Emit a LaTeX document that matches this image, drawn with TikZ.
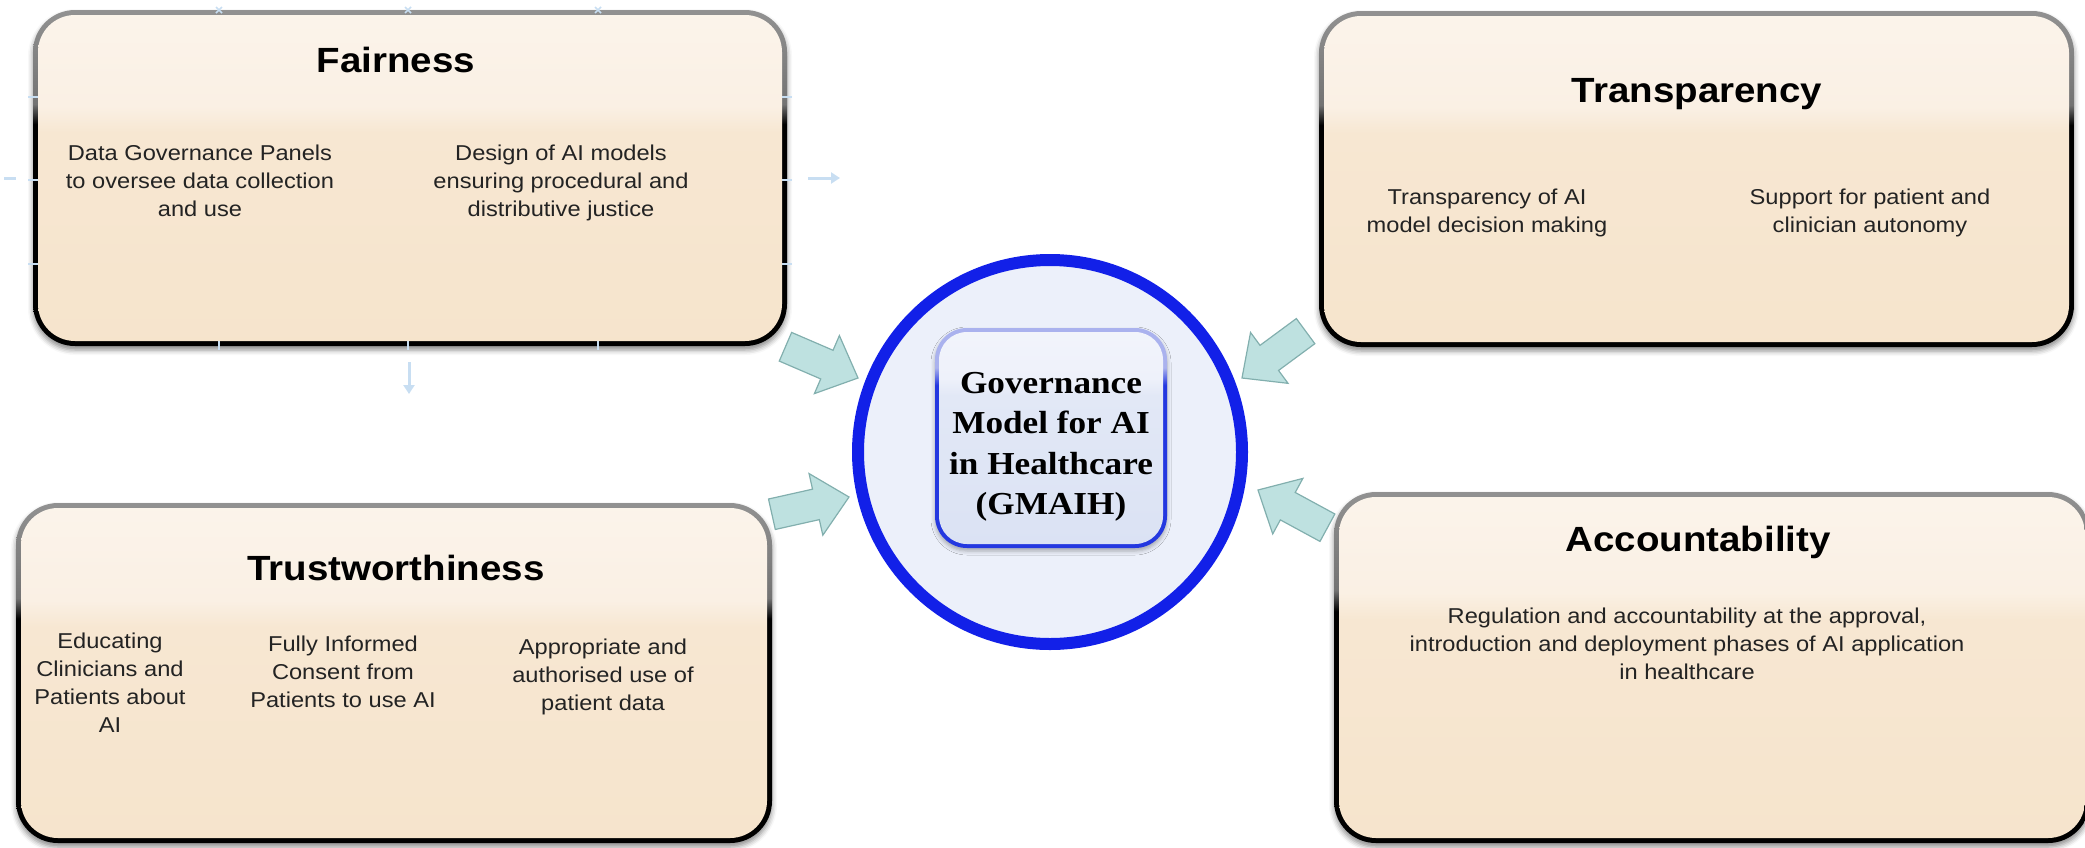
\documentclass[tikz,border=0pt]{standalone}
\usepackage{fontspec}
\setmainfont{Liberation Sans}
\newfontfamily\bodyfont[FakeStretch=1.1]{Liberation Sans}
\newfontfamily\hubfont[FakeStretch=1.1]{Liberation Serif}
\usetikzlibrary{shapes.arrows,shadows.blur,arrows.meta}

\definecolor{bordertop}{RGB}{200,200,200}
\definecolor{bordermid}{RGB}{115,115,115}
\definecolor{peachA}{RGB}{245,226,200}
\definecolor{peachB}{RGB}{247,231,210}
\definecolor{peachC}{RGB}{250,240,228}
\definecolor{peachD}{RGB}{253,250,246}
\definecolor{ringblue}{RGB}{18,32,232}
\definecolor{circfill}{RGB}{236,240,250}
\definecolor{hubedge}{RGB}{36,56,224}
\definecolor{hubedgetop}{RGB}{170,178,238}
\definecolor{hubA}{RGB}{214,222,242}
\definecolor{hubB}{RGB}{226,232,246}
\definecolor{hubC}{RGB}{238,241,250}
\definecolor{hubD}{RGB}{250,251,254}
\definecolor{arrowfill}{RGB}{190,225,224}
\definecolor{arrowline}{RGB}{130,175,174}
\definecolor{faint}{RGB}{200,222,242}
\definecolor{txt}{RGB}{35,35,35}

\pgfdeclareverticalshading{bordershade}{100bp}{color(0bp)=(black); color(58bp)=(black); color(61bp)=(bordermid); color(100bp)=(bordertop)}
\pgfdeclareverticalshading{peachshade}{100bp}{color(0bp)=(peachA); color(57bp)=(peachB); color(61bp)=(peachC); color(100bp)=(peachD)}
\pgfdeclareverticalshading{hubedgeshade}{100bp}{color(0bp)=(hubedge); color(62bp)=(hubedge); color(66bp)=(hubedgetop); color(100bp)=(hubedgetop)}
\pgfdeclareverticalshading{hubfillshade}{100bp}{color(0bp)=(hubA); color(60bp)=(hubB); color(64bp)=(hubC); color(100bp)=(hubD)}

\newcommand\textlines[1]{\begin{tabular}[t]{@{}c@{}}#1\end{tabular}}

\tikzset{
  boxouter/.style={shade, shading=bordershade, rounded corners=42pt, inner sep=0pt, outer sep=0pt,
    blur shadow={shadow xshift=0pt, shadow yshift=-4pt, shadow opacity=45, shadow blur radius=5pt}},
  boxinner/.style={shade, shading=peachshade, rounded corners=37pt, inner sep=0pt, outer sep=0pt},
  titletext/.style={anchor=base, inner sep=0pt, text=black, font={\bodyfont\bfseries\fontsize{35}{40}\selectfont}},
  bodytext/.style={anchor=base, inner sep=0pt, text=txt, font={\bodyfont\fontsize{21.5}{28}\selectfont}},
  hubtextstyle/.style={anchor=base, inner sep=0pt, text=black, font={\hubfont\bfseries\fontsize{32}{40.5}\selectfont}},
  tealarrow/.style={single arrow, draw=arrowline, fill=arrowfill, line width=1.2pt, minimum height=79pt,
    single arrow head extend=16pt, single arrow tip angle=86, inner xsep=0pt, inner ysep=15pt,
    outer sep=0pt, anchor=tip},
  faintarrow/.style={draw=faint, line width=3pt, -{Triangle[width=11pt,length=9pt]}},
  faintmark/.style={draw=faint, line width=1.5pt},
}

\begin{document}
\begin{tikzpicture}[x=1pt, y=-1pt]
\useasboundingbox (0,0) rectangle (2085,847);

% ---------- Fairness ----------
\node[boxouter, minimum width=754pt, minimum height=336pt] (fair) at (410,178) {};
\node[boxinner, minimum width=744pt, minimum height=326pt] (fairin) at (fair) {};
\node[titletext] (fairt) at (396,72) {Fairness};
\node[bodytext] (faira) at (200,160) {\textlines{Data Governance Panels\\to oversee data collection\\and use}};
\node[bodytext] (fairb) at (561,160) {\textlines{Design of AI models\\ensuring procedural and\\distributive justice}};

% faint handles around Fairness
\foreach \xx in {219,408,598} {
  \draw[faintmark] (\xx-3,7) -- (\xx+3,13);
  \draw[faintmark] (\xx+3,7) -- (\xx-3,13);
  \draw[faintmark] (\xx,341) -- (\xx,350);
}
\foreach \yy in {97,180,264} {
  \draw[faintmark] (28,\yy) -- (38,\yy);
  \draw[faintmark] (782,\yy) -- (792,\yy);
}
\coordinate (fr1) at (808,178); \coordinate (fr2) at (840,178);
\draw[faintarrow] (fr1) -- (fr2);
\coordinate (fd1) at (409,362); \coordinate (fd2) at (409,394);
\draw[faintarrow] (fd1) -- (fd2);
\coordinate (fl1) at (4,178); \coordinate (fl2) at (16,178);
\draw[faintmark, line width=3pt] (fl1) -- (fl2);

% ---------- Transparency ----------
\node[boxouter, minimum width=755pt, minimum height=336pt] (trans) at (1696.5,179) {};
\node[boxinner, minimum width=745pt, minimum height=326pt] (transin) at (trans) {};
\node[titletext] (transt) at (1697,102) {Transparency};
\node[bodytext] (transa) at (1487,204) {\textlines{Transparency of AI\\model decision making}};
\node[bodytext] (transb) at (1870,204) {\textlines{Support for patient and\\clinician autonomy}};

% ---------- Trustworthiness ----------
\node[boxouter, minimum width=756pt, minimum height=340pt] (trust) at (394,673) {};
\node[boxinner, minimum width=746pt, minimum height=330pt] (trustin) at (trust) {};
\node[titletext] (trustt) at (396,580) {Trustworthiness};
\node[bodytext] (trusta) at (110,648) {\textlines{Educating\\Clinicians and\\Patients about\\AI}};
\node[bodytext] (trustb) at (343,651) {\textlines{Fully Informed\\Consent from\\Patients to use AI}};
\node[bodytext] (trustc) at (603,654) {\textlines{Appropriate and\\authorised use of\\patient data}};

% ---------- Accountability ----------
\node[boxouter, minimum width=756pt, minimum height=351pt] (acc) at (1712,667.5) {};
\node[boxinner, minimum width=746pt, minimum height=341pt] (accin) at (acc) {};
\node[titletext] (acct) at (1698,551) {Accountability};
\node[bodytext] (acca) at (1687,623) {\textlines{Regulation and accountability at the approval,\\introduction and deployment phases of AI application\\in healthcare}};

% ---------- Centre ----------
\node[circle, draw=ringblue, line width=12pt, fill=circfill, minimum size=384pt, inner sep=0pt] (hub) at (1050,452) {};
\node[shade, shading=hubedgeshade, rounded corners=32pt, minimum width=232pt, minimum height=220pt, inner sep=0pt,
  blur shadow={shadow xshift=0pt, shadow yshift=-3pt, shadow opacity=30, shadow blur radius=4pt}] (hubbox) at (1051,438) {};
\node[shade, shading=hubfillshade, rounded corners=28pt, minimum width=224pt, minimum height=212pt, inner sep=0pt] (hubin) at (hubbox) {};
\node[hubtextstyle] (hubt) at (1051,393) {\textlines{Governance\\Model for AI\\in Healthcare\\(GMAIH)}};

% ---------- Arrows ----------
\node[tealarrow, rotate=-23.3] (arr1) at (858,378) {};
\node[tealarrow, rotate=12.6] (arr2) at (849,497) {};
\node[tealarrow, rotate=216.4] (arr3) at (1242,378) {};
\node[tealarrow, rotate=151.5] (arr4) at (1258,490) {};
\end{tikzpicture}
\end{document}
